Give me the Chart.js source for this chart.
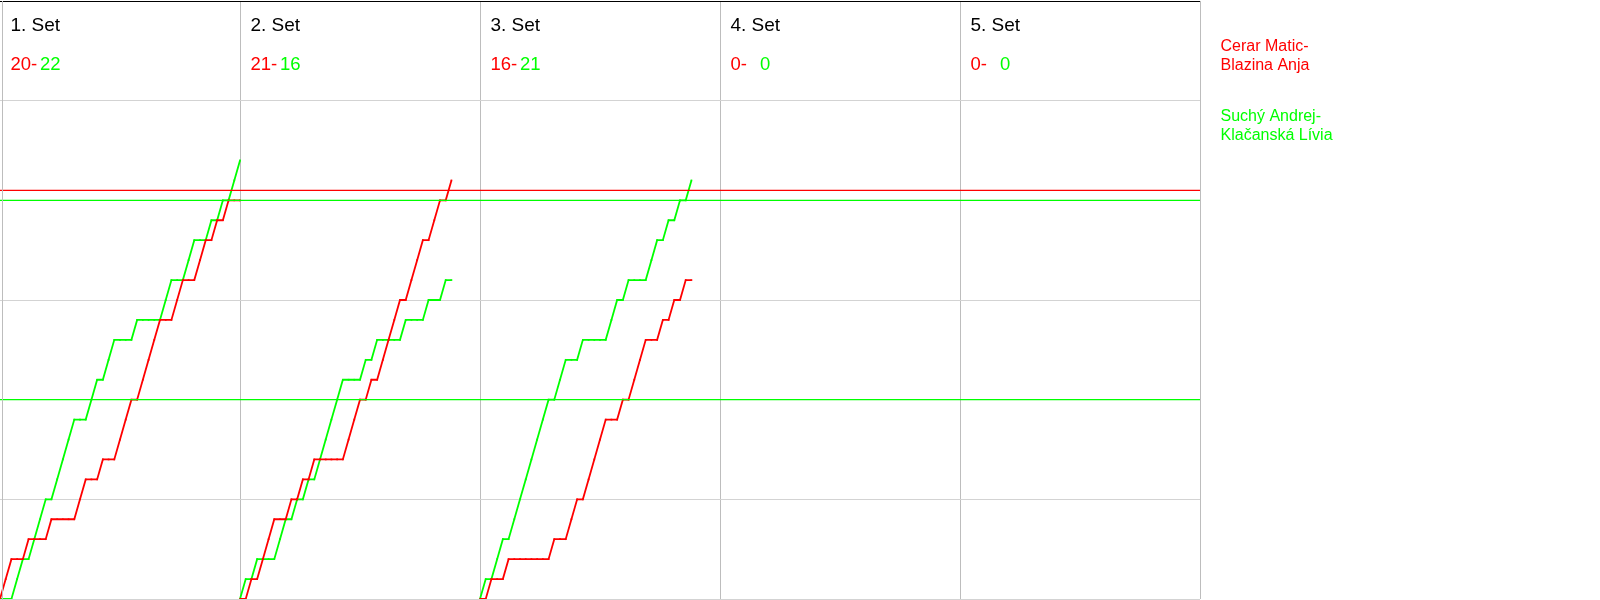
<!DOCTYPE html>
<html>
<head>
<meta charset="utf-8">
<script src="https://cdn.jsdelivr.net/npm/chart.js@4/dist/chart.umd.min.js"></script>
<style>
  html, body { margin: 0; padding: 0; background: #fff; }
  #wrap { position: relative; width: 1600px; height: 600px; }
</style>
</head>
<body>
<div id="wrap"><canvas id="scoreChart" width="1600" height="600"></canvas></div>
<script>
const setLabels = ["1. Set", "2. Set", "3. Set", "4. Set", "5. Set"];
const redSetScores = [20, 21, 16, 0, 0];
const greenSetScores = [22, 16, 21, 0, 0];
const redTeam = ["Cerar Matic-", "Blazina Anja"];
const greenTeam = ["Suchý Andrej-", "Klačanská Lívia"];

// running score after each rally (index 0 = start of the set)
const redSet1 = [0,1,2,2,2,3,3,3,3,4,4,4,4,4,5,6,6,6,7,7,7,8,9,10,10,11,12,13,14,14,14,15,16,16,16,17,18,18,19,19,20,20,20];
const greenSet1 = [0,0,0,1,2,2,3,4,5,5,6,7,8,9,9,9,10,11,11,12,13,13,13,13,14,14,14,14,14,15,16,16,16,17,18,18,18,19,19,20,20,21,22];
const redSet2 = [0,0,1,1,2,3,4,4,4,5,5,6,6,7,7,7,7,7,7,8,9,10,10,11,11,12,13,14,15,15,16,17,18,18,19,20,20,21];
const greenSet2 = [0,1,1,2,2,2,2,3,4,4,5,5,6,6,7,8,9,10,11,11,11,11,12,12,13,13,13,13,13,14,14,14,14,15,15,15,16,16];
const redSet3 = [0,0,1,1,1,2,2,2,2,2,2,2,2,3,3,3,4,5,5,6,7,8,9,9,9,10,10,11,12,13,13,13,14,14,15,15,16,16];
const greenSet3 = [0,1,1,2,3,3,4,5,6,7,8,9,10,10,11,12,12,12,13,13,13,13,13,14,15,15,16,16,16,16,17,18,18,19,19,20,20,21];

const redRallies = [redSet1, redSet2, redSet3];
const greenRallies = [greenSet1, greenSet2, greenSet3];

// horizontal reference lines (score level)
const redLevels = [20.5];
const greenLevels = [20, 10];

const ralliesPerSet = 42;
const setCount = 5;
const scoreTicks = [0, 5, 10, 15, 20, 25, 30];

const RED = "#ff0000";
const GREEN = "#00ff00";
const FONT = "'Liberation Sans', Arial, sans-serif";

function rallyLine(series, setIdx, color) {
  return {
    data: series.map((v, i) => ({ x: setIdx * ralliesPerSet + i, y: v })),
    borderColor: color,
    backgroundColor: color,
    borderWidth: 1.8,
    pointStyle: "rect",
    pointRadius: 1.2,
    pointBorderWidth: 0,
    tension: 0
  };
}

function levelLine(level, color) {
  return {
    data: [{ x: 0, y: level }, { x: setCount * ralliesPerSet, y: level }],
    borderColor: color,
    borderWidth: 1.3,
    pointRadius: 0,
    tension: 0
  };
}

const datasets = [];
greenLevels.forEach((l) => datasets.push(levelLine(l, GREEN)));
redLevels.forEach((l) => datasets.push(levelLine(l, RED)));
redRallies.forEach((s, i) => datasets.push(rallyLine(s, i, RED)));
greenRallies.forEach((s, i) => datasets.push(rallyLine(s, i, GREEN)));

const headerPlugin = {
  id: "header",
  afterDraw(chart) {
    const { ctx, scales } = chart;
    const xs = scales.x;
    ctx.save();
    // left frame line
    ctx.strokeStyle = "#bdbdbd";
    ctx.lineWidth = 1;
    ctx.beginPath();
    ctx.moveTo(2.5, 1);
    ctx.lineTo(2.5, 600);
    ctx.stroke();

    ctx.textBaseline = "alphabetic";
    setLabels.forEach((label, s) => {
      const left = xs.getPixelForValue(s * ralliesPerSet);
      ctx.font = "19px " + FONT;
      ctx.fillStyle = "#000";
      ctx.fillText(label, left + 10.5, 31);
      ctx.font = "18.5px " + FONT;
      ctx.fillStyle = RED;
      ctx.fillText(redSetScores[s] + "-", left + 10.5, 70);
      ctx.fillStyle = GREEN;
      ctx.fillText(String(greenSetScores[s]), left + 40, 70);
    });

    ctx.font = "16px " + FONT;
    ctx.fillStyle = RED;
    redTeam.forEach((t, i) => ctx.fillText(t, 1220.5, 51 + i * 18.5));
    ctx.fillStyle = GREEN;
    greenTeam.forEach((t, i) => ctx.fillText(t, 1220.5, 121 + i * 18.5));
    ctx.restore();
  }
};

new Chart(document.getElementById("scoreChart"), {
  type: "line",
  data: { datasets },
  options: {
    responsive: false,
    animation: false,
    layout: { autoPadding: false, padding: { left: 0, right: 400, top: 1, bottom: 1 } },
    plugins: { legend: { display: false }, tooltip: { enabled: false } },
    scales: {
      x: {
        type: "linear",
        min: 0,
        max: setCount * ralliesPerSet,
        afterBuildTicks: (scale) => {
          scale.ticks = Array.from({ length: setCount + 1 }, (_, k) => ({ value: k * ralliesPerSet }));
        },
        afterFit: (scale) => { scale.height = 0; },
        ticks: { display: false, padding: 0 },
        grid: {
          color: (c) => (c.tick && c.tick.value === 0 ? "rgba(0,0,0,0)" : "#bdbdbd"),
          drawTicks: false,
          lineWidth: 1
        },
        border: { display: false }
      },
      y: {
        type: "linear",
        min: 0,
        max: 30,
        afterBuildTicks: (scale) => {
          scale.ticks = scoreTicks.map((v) => ({ value: v }));
        },
        afterFit: (scale) => { scale.width = 0; },
        ticks: { display: false, padding: 0 },
        grid: {
          color: (c) => (c.tick && c.tick.value === 30 ? "#000000" : "#d3d3d3"),
          drawTicks: false,
          lineWidth: 1
        },
        border: { display: false }
      }
    }
  },
  plugins: [headerPlugin]
});
</script>
</body>
</html>
